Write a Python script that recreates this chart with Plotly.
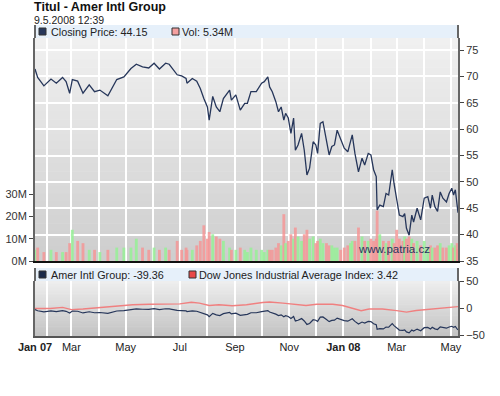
import plotly.graph_objects as go
import pandas as pd

# ---------------- data ----------------
dates = [
    "2007-01-19", "2007-01-22", "2007-01-29",
    "2007-02-06", "2007-02-12", "2007-02-19", "2007-02-23", "2007-02-27",
    "2007-03-02", "2007-03-08", "2007-03-14", "2007-03-21", "2007-03-27",
    "2007-04-02", "2007-04-11", "2007-04-21", "2007-04-29",
    "2007-05-07", "2007-05-13", "2007-05-20", "2007-05-27",
    "2007-06-02", "2007-06-08", "2007-06-15", "2007-06-19", "2007-06-28",
    "2007-07-03", "2007-07-08", "2007-07-09", "2007-07-15", "2007-07-20", "2007-07-24", "2007-07-28",
    "2007-08-01", "2007-08-03", "2007-08-07", "2007-08-11", "2007-08-15", "2007-08-19", "2007-08-26", "2007-08-28",
    "2007-09-02", "2007-09-07", "2007-09-12", "2007-09-15", "2007-09-19", "2007-09-25",
    "2007-10-01", "2007-10-04", "2007-10-08", "2007-10-10", "2007-10-13", "2007-10-17", "2007-10-20",
    "2007-10-23", "2007-10-26", "2007-10-28", "2007-10-31",
    "2007-11-03", "2007-11-06", "2007-11-08", "2007-11-11", "2007-11-15", "2007-11-18", "2007-11-21",
    "2007-11-24", "2007-11-28",
    "2007-12-01", "2007-12-03", "2007-12-06", "2007-12-09", "2007-12-13", "2007-12-16", "2007-12-19",
    "2007-12-22", "2007-12-25", "2007-12-29",
    "2008-01-02", "2008-01-06", "2008-01-09", "2008-01-11", "2008-01-14", "2008-01-18", "2008-01-22",
    "2008-01-25", "2008-01-29",
    "2008-02-01", "2008-02-04", "2008-02-07", "2008-02-08", "2008-02-11", "2008-02-15", "2008-02-18",
    "2008-02-21", "2008-02-25", "2008-02-27",
    "2008-03-01", "2008-03-04", "2008-03-08", "2008-03-10", "2008-03-12", "2008-03-15", "2008-03-18",
    "2008-03-20", "2008-03-24", "2008-03-28",
    "2008-04-01", "2008-04-05", "2008-04-08", "2008-04-10", "2008-04-13", "2008-04-16", "2008-04-19",
    "2008-04-22", "2008-04-26", "2008-04-29",
    "2008-05-02", "2008-05-04", "2008-05-06", "2008-05-08", "2008-05-09",
]
close = [
    71.4, 69.8, 68.2,
    69.5, 68.7, 69.8, 69.0, 66.8,
    69.4, 69.1, 66.8, 68.4, 67.1,
    67.4, 66.3, 69.4, 69.9,
    71.5, 72.3, 71.8, 71.6,
    72.5, 71.4, 72.5, 72.3, 70.3,
    70.1, 69.6, 68.7, 69.6, 69.1, 67.7, 65.8,
    64.2, 61.7, 66.2, 64.2, 63.3, 65.8, 67.4, 65.5,
    66.5, 63.6, 64.9, 64.9, 67.1, 67.1,
    68.7, 69.0, 69.9, 68.0, 67.1, 65.2, 63.3,
    64.2, 61.7, 63.0, 62.1,
    59.2, 62.1, 56.0, 57.0, 59.2, 56.0, 51.3,
    52.6, 57.6,
    57.0, 55.4, 61.1, 61.4, 57.9, 55.1, 56.7,
    57.0, 59.8, 57.9,
    56.4, 55.7, 57.6, 58.9, 55.4, 51.9, 54.5,
    53.2, 55.4,
    55.1, 52.3, 51.0, 44.7, 45.6, 45.3, 47.8,
    47.5, 52.3, 49.7,
    46.6, 43.7, 43.4, 44.0, 41.2, 39.9, 43.7,
    42.4, 45.0, 42.8,
    46.9, 47.2, 45.0, 47.5, 45.3, 44.4, 48.1,
    46.9, 46.2, 47.8,
    48.8, 47.5, 48.5, 45.3, 44.15,
]
volume_m = [
    5, 6, 4,
    5, 4, 4, 4, 8,
    14, 9, 8, 5, 5,
    4, 5, 6, 6,
    6, 10, 6, 5,
    6, 5, 6, 5, 9,
    5, 6, 5, 5, 7, 9, 16,
    10, 13, 12, 11, 10, 9, 6, 5,
    5, 6, 5, 4, 6, 5,
    5, 4, 5, 5, 5, 6, 8,
    7, 21, 8, 9,
    12, 10, 15, 11, 9, 12, 14,
    10, 11,
    8, 9, 10, 8, 8, 7, 7,
    6, 6, 5,
    6, 7, 8, 9, 9, 15, 11,
    9, 9,
    10, 9, 10, 22.6, 12, 9, 8,
    9, 10, 8,
    14, 10, 9, 11, 10, 11, 10,
    8, 9, 7,
    9, 6, 7, 6, 6, 7, 8,
    6, 6, 7,
    8, 6, 7, 8, 5.34,
]

dj_dates = [
    "2007-01-19", "2007-02-05", "2007-02-19", "2007-03-01", "2007-03-14", "2007-04-02",
    "2007-04-21", "2007-05-09", "2007-05-28", "2007-06-16", "2007-07-01", "2007-07-14",
    "2007-07-23", "2007-08-03", "2007-08-14", "2007-08-29", "2007-09-14", "2007-10-02",
    "2007-10-10", "2007-10-25", "2007-11-05", "2007-11-20", "2007-12-02", "2007-12-20",
    "2007-12-31", "2008-01-11", "2008-01-21", "2008-01-30", "2008-02-14", "2008-03-01",
    "2008-03-12", "2008-03-23", "2008-04-07", "2008-04-22", "2008-05-09",
]
dj_change = [
    0, 0, 2, -2, -1, 2,
    5, 7, 8, 8, 8.5, 11.5,
    10, 5.5, 7, 5, 7, 11,
    12, 10, 8, 5.5, 8, 8,
    5.5, 0.6, -4, -1, -1, -4,
    -6.7, -3.7, -1, 1, 3.42,
]

aig_change_last = -39.36
dj_change_last = 3.42
last_close = 44.15
last_vol = 5.34

price_ticks = [35, 40, 45, 50, 55, 60, 65, 70, 75]
vol_ticks = [0, 10, 20, 30]
vol_tick_text = ["0M", "10M", "20M", "30M"]
rel_ticks = [-50, 0, 50]
x_tick_dates = ["2007-01-19", "2007-03-01", "2007-05-01", "2007-07-01", "2007-09-01",
                "2007-11-01", "2008-01-01", "2008-03-01", "2008-05-01"]
x_tick_text = ["<b>Jan 07</b>", "Mar", "May", "Jul", "Sep", "Nov", "<b>Jan 08</b>", "Mar", "May"]

title_text = "Titul - Amer Intl Group"
stamp_text = "9.5.2008 12:39"

# ---------------- derived ----------------
base_price = close[-1] / (1 + aig_change_last / 100.0)
aig_rel = [(p / base_price - 1) * 100 for p in close]
GREEN = "rgba(150,240,150,0.85)"
RED = "rgba(244,150,150,0.85)"
bar_colors = [GREEN]
for i in range(1, len(close)):
    bar_colors.append(GREEN if close[i] >= close[i - 1] else RED)
month_starts = [d.strftime("%Y-%m-%d") for d in pd.date_range("2007-02-01", "2008-05-01", freq="MS")]

# ---------------- layout geometry ----------------
W, H = 500, 396
L, R, T, B = 35, 42, 38, 60
PW, PH = W - L - R, H - T - B


def px(x):
    return (x - L) / PW


def py(y):
    return (H - B - y) / PH


FONT = "Liberation Sans, Arial, sans-serif"
NAVY = "#26365a"

fig = go.Figure()
fig.add_trace(go.Bar(x=dates, y=volume_m, marker=dict(color=bar_colors, line=dict(width=0)),
                     width=3.2 * 86400000, xaxis="x", yaxis="y", showlegend=False, hoverinfo="skip"))
fig.add_trace(go.Scatter(x=dates, y=close, mode="lines", line=dict(color=NAVY, width=1.3),
                         xaxis="x", yaxis="y2", showlegend=False))
fig.add_trace(go.Scatter(x=dj_dates, y=dj_change, mode="lines", line=dict(color="#f08080", width=1.4),
                         xaxis="x2", yaxis="y3", showlegend=False))
fig.add_trace(go.Scatter(x=dates, y=aig_rel, mode="lines", line=dict(color=NAVY, width=1.2),
                         xaxis="x2", yaxis="y3", showlegend=False))

shapes = []


def gradient(y_top, y_bot, c_top, c_bot, n=30):
    for i in range(n):
        t = i / (n - 1)
        c = [round(c_top[k] + (c_bot[k] - c_top[k]) * t) for k in range(3)]
        ya = y_top + (y_bot - y_top) * i / n
        yb = y_top + (y_bot - y_top) * (i + 1) / n
        shapes.append(dict(type="rect", xref="paper", yref="paper", x0=0, x1=1,
                           y0=py(yb), y1=py(ya) + 0.002, fillcolor="rgb(%d,%d,%d)" % tuple(c),
                           line=dict(width=0), layer="below"))


gradient(38, 261, (240, 240, 240), (206, 206, 206))
gradient(281, 336, (238, 238, 238), (196, 196, 196))

# legend strips
for (ya, yb) in [(25, 38), (268, 281)]:
    shapes.append(dict(type="rect", xref="paper", yref="paper", x0=0, x1=1, y0=py(yb), y1=py(ya),
                       fillcolor="#e6f0fa", line=dict(width=0), layer="below"))
# axis lines through the strips
for xx in (35, 458):
    shapes.append(dict(type="line", xref="paper", yref="paper", x0=px(xx), x1=px(xx), y0=py(38), y1=py(25),
                       line=dict(color="#666666", width=2)))
    shapes.append(dict(type="line", xref="paper", yref="paper", x0=px(xx), x1=px(xx), y0=py(281), y1=py(268),
                       line=dict(color="#666666", width=2)))
# legend squares
for (x0, y0, col) in [(39, 28, NAVY), (172, 28, "#f4a0a0"), (39, 271, "#1a2a4a"), (189, 271, "#e84848")]:
    shapes.append(dict(type="rect", xref="paper", yref="paper", x0=px(x0), x1=px(x0 + 7),
                       y0=py(y0 + 7), y1=py(y0), fillcolor=col, line=dict(color="#333333", width=1)))

ann = []


def text(x, y, s, size=11, bold=False, color="#222222"):
    ann.append(dict(xref="paper", yref="paper", x=px(x), y=py(y), xanchor="left", yanchor="middle",
                    text=("<b>%s</b>" % s) if bold else s, showarrow=False, borderpad=0,
                    font=dict(family=FONT, size=size, color=color)))


text(33, 7, title_text, size=12.5, bold=True, color="#111111")
text(33, 20, stamp_text, size=10.5, color="#222222")
text(50, 32, "Closing Price: %.2f" % last_close, size=10.8)
text(181, 32, "Vol: %.2fM" % last_vol, size=10.8)
text(50, 274.5, "Amer Intl Group: %.2f" % aig_change_last, size=10.8)
text(198, 274.5, "Dow Jones Industrial Average Index: %.2f" % dj_change_last, size=10.8)
text(357, 249, "www.patria.cz", size=11.5, color="#2a3560")

xgrid_minor = dict(tickmode="array", tickvals=month_starts, showgrid=True, gridcolor="white",
                   gridwidth=1.5, ticks="")
xrange = ["2007-01-19", "2008-05-09"]
tickfont = dict(family=FONT, size=11, color="#333333")

fig.update_layout(
    template="none",
    width=W, height=H,
    margin=dict(l=L, r=R, t=T, b=B, pad=0),
    paper_bgcolor="white", plot_bgcolor="rgba(0,0,0,0)",
    font=dict(family=FONT, size=11, color="#333333"),
    showlegend=False,
    shapes=shapes, annotations=ann,
    xaxis=dict(domain=[0, 1], anchor="y", type="date", range=xrange, automargin=False,
               tickmode="array", tickvals=x_tick_dates, showticklabels=False, ticks="",
               showgrid=True, gridcolor="white", gridwidth=1.5, minor=xgrid_minor,
               showline=True, linecolor="#111111", linewidth=2, zeroline=False),
    yaxis=dict(domain=[py(261), 1], anchor="x", side="left", range=[0, 100], automargin=False,
               tickmode="array", tickvals=vol_ticks, ticktext=vol_tick_text,
               ticks="outside", ticklen=4, tickcolor="#444444", tickfont=tickfont,
               showgrid=False, zeroline=False, showline=True, linecolor="#666666", linewidth=2),
    yaxis2=dict(overlaying="y", anchor="x", side="right", range=[35, 35 + 223 / 5.275], automargin=False,
                tickmode="array", tickvals=price_ticks,
                ticks="outside", ticklen=4, tickcolor="#444444", tickfont=tickfont,
                showgrid=True, gridcolor="white", gridwidth=1.5, zeroline=False,
                showline=True, linecolor="#666666", linewidth=2),
    xaxis2=dict(domain=[0, 1], anchor="y3", type="date", range=xrange, automargin=False,
                tickmode="array", tickvals=x_tick_dates, ticktext=x_tick_text, ticks="",
                tickfont=dict(family=FONT, size=11, color="#222222"),
                showgrid=True, gridcolor="white", gridwidth=1.5, minor=xgrid_minor,
                showline=True, linecolor="#555555", linewidth=2, zeroline=False),
    yaxis3=dict(domain=[0, py(281)], anchor="x2", side="right", range=[-51, 51], automargin=False,
                tickmode="array", tickvals=rel_ticks,
                ticks="outside", ticklen=4, tickcolor="#444444", tickfont=tickfont,
                showgrid=False, zeroline=False, showline=True, mirror=True,
                linecolor="#666666", linewidth=2),
)

fig.write_html("out.html", config={"displayModeBar": False},
               post_script="document.body.style.margin='0px';")
